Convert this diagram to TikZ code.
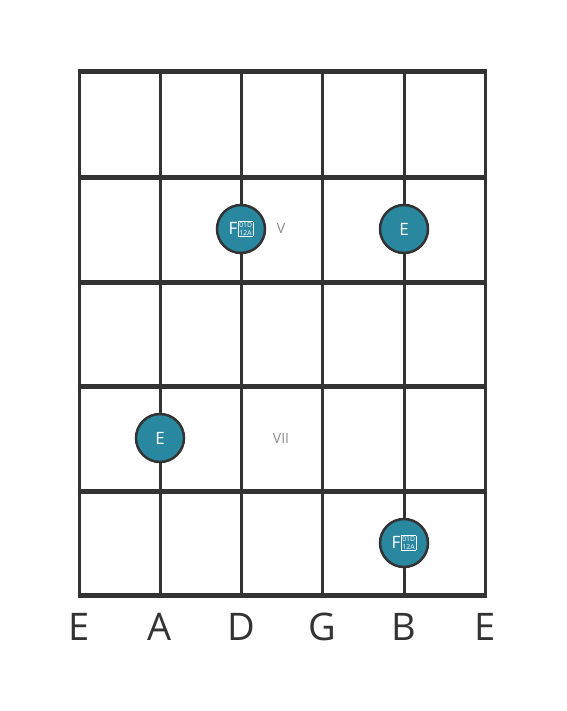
\documentclass[tikz,border=0pt]{standalone}
\usepackage{fontspec}
\setmainfont{Open Sans}
\usepackage{xcolor}

\definecolor{gridgray}{HTML}{333333}
\definecolor{dotteal}{HTML}{2A87A0}
\definecolor{labelgray}{HTML}{8A8A8A}

% missing-glyph box as printed in the chart
\newcommand{\tofubox}[2]{%
  {\setlength{\fboxsep}{0.7pt}\setlength{\fboxrule}{0.6pt}%
   \raisebox{-0.9pt}{\fbox{\fontsize{6.8}{6.6}\selectfont\shortstack{#1\\#2}}}}}

\tikzset{
  fretline/.style={line width=5pt, gridgray},
  stringline/.style={line width=3pt, gridgray},
  notedot/.style={circle, minimum size=48pt, inner sep=0pt, fill=dotteal,
    draw=gridgray, line width=2.5pt, text=white, font=\fontsize{17}{18}\selectfont},
  fretnum/.style={labelgray, font=\fontsize{14}{15}\selectfont},
  stringname/.style={gridgray, font=\fontsize{38}{40}\selectfont}
}

\begin{document}
\begin{tikzpicture}[x=1pt, y=-1pt]

    \useasboundingbox (0,0) rectangle (566,711);

    % Strings
    \foreach \sx in {79,160,241,322,404,485}
        \draw[stringline] (\sx,72) -- (\sx,595);

    % Frets
    \foreach \fy in {72,178,282,386,491,595}
        \draw[fretline] (77.5,\fy) -- (486.5,\fy);

    % Fret numbers
    \node[fretnum] (fretV) at (281,229) {V};
    \node[fretnum] (fretVII) at (281,438) {VII};

    % Notes
    \node[notedot] (noteD) at (241,229) {F\kern0.5pt\tofubox{01D}{12A}};
    \node[notedot] (noteB) at (404,229) {E};
    \node[notedot] (noteA) at (160,438) {E};
    \node[notedot] (noteBlow) at (404,543) {F\kern0.5pt\tofubox{01D}{12A}};

    % String names
    \node[stringname] (nameE) at (79,627) {E};
    \node[stringname] (nameA) at (160,627) {A};
    \node[stringname] (nameD) at (241,627) {D};
    \node[stringname] (nameG) at (322,627) {G};
    \node[stringname] (nameB) at (404,627) {B};
    \node[stringname] (namee) at (485,627) {E};

\end{tikzpicture}
\end{document}
